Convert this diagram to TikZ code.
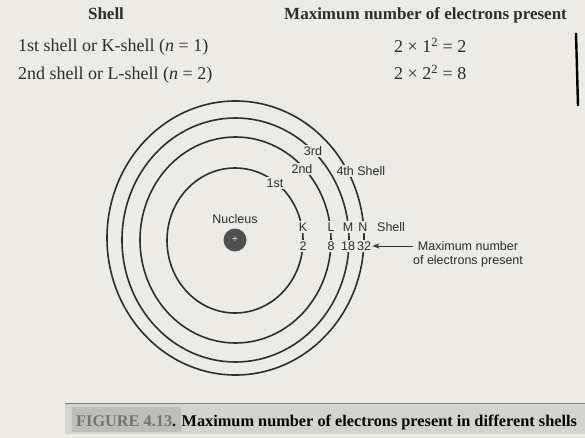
\documentclass[tikz,border=0pt]{standalone}
\usepackage{fontspec}
\setmainfont{Liberation Serif}
\newfontfamily\dsans{Liberation Sans}
\usetikzlibrary{arrows.meta,calc}
\definecolor{paper}{RGB}{236,235,230}
\definecolor{ink}{RGB}{45,45,45}
\definecolor{band}{RGB}{212,212,207}
\definecolor{bandbox}{RGB}{190,190,185}
\definecolor{figgray}{RGB}{115,115,112}
\definecolor{nucgray}{RGB}{80,80,80}
\begin{document}
\begin{tikzpicture}[x=1pt,y=-1pt,
  shellline/.style={draw=ink,line width=1.6pt},
  arclbl/.style={font=\dsans\fontsize{12.5}{14}\selectfont,text=ink,fill=paper,inner sep=1.3pt},
  lbl/.style={font=\dsans\fontsize{12.5}{14}\selectfont,text=ink,inner sep=0pt},
  head/.style={font=\fontsize{17}{20}\selectfont\bfseries,text=ink,inner sep=0pt,anchor=base west},
  rowtxt/.style={font=\fontsize{18}{20}\selectfont,text=ink,inner sep=0pt,anchor=base west},
]
\fill[paper] (0,0) rectangle (585,438);
\useasboundingbox (0,0) rectangle (585,438);
\clip (0,0) rectangle (585,438);

% header table
\node[head,anchor=base] (hshell) at (106,20) {Shell};
\node[head] (hmax) at (284,20) {Maximum number of electrons present};
\node[rowtxt] (r1) at (18,52) {1st shell or K-shell (\textit{n} = 1)};
\node[rowtxt] (r2) at (18,80) {2nd shell or L-shell (\textit{n} = 2)};
\node[rowtxt] (f1) at (394,53) {2 × 1\textsuperscript{2} = 2};
\node[rowtxt] (f2) at (394,80) {2 × 2\textsuperscript{2} = 8};
\draw[black,line width=2.4pt] (576,33) -- (578,106);

% shells
\coordinate (cK) at (235,240.5);
\coordinate (cL) at (235.5,240);
\coordinate (cM) at (235.5,240);
\coordinate (cN) at (235.5,238);
\draw[shellline] (cK) ellipse [x radius=68pt, y radius=72.5pt];
\draw[shellline] (cL) ellipse [x radius=95.5pt, y radius=103pt];
\draw[shellline] (cM) ellipse [x radius=113.5pt, y radius=122pt];
\draw[shellline] (cN) ellipse [x radius=128.5pt, y radius=137pt];

% shell names on the arcs
\node[arclbl] (s1) at (275,183) {1st};
\node[arclbl] (s2) at (302,169) {2nd};
\node[arclbl] (s3) at (313,151) {3rd};
\node[arclbl,anchor=west] (s4) at (335,171) {4th Shell};

% letters and numbers
\node[arclbl] (lK) at (303,227) {K};
\node[arclbl] (lL) at (331,227) {L};
\node[arclbl] (lM) at (348,227) {M};
\node[arclbl] (lN) at (363,227) {N};
\node[lbl,anchor=west] (lshell) at (377,227) {Shell};
\node[arclbl] (n2) at (303,246) {2};
\node[arclbl] (n8) at (331,246) {8};
\node[arclbl] (n18) at (348,246) {18};
\node[arclbl] (n32) at (364,246) {32};

\node[lbl,align=center] (maxlbl) at (468,254) {Maximum number\\of electrons present};
\draw[ink,line width=1pt,-{Stealth[length=7pt,width=5pt]}] (maxlbl.west |- n32) -- (n32.east);

% nucleus
\node[lbl] (nuclbl) at (235,219) {Nucleus};
\node[circle,fill=nucgray,minimum size=23pt,inner sep=0pt,
      font=\dsans\fontsize{10}{10}\selectfont,text=white!85!gray] (nuc) at (235,240) {+};

% caption band
\fill[band] (65,403) rectangle (590,434);
\draw[gray,line width=0.8pt] (65,403) -- (590,403);
\fill[bandbox] (72,407) rectangle (181,432);
\node[anchor=base west,inner sep=0pt,font=\fontsize{16.3}{19}\selectfont\bfseries,text=black] (cap) at (76,426)
  {\textcolor{figgray}{FIGURE 4.13}. Maximum number of electrons present in different shells};
\end{tikzpicture}
\end{document}
